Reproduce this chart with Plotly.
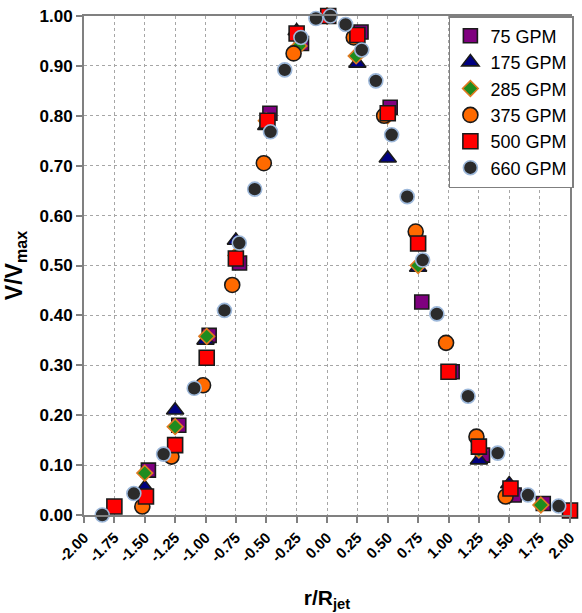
import plotly.graph_objects as go

# Normalised jet velocity profiles, r/R_jet vs V/V_max, per flow rate
x75 = [-1.47, -1.22, -0.97, -0.72, -0.47, -0.21, 0.01, 0.28, 0.52, 0.78, 1.03, 1.28, 1.54, 1.78]
y75 = [0.090, 0.180, 0.360, 0.505, 0.805, 0.945, 1.000, 0.968, 0.817, 0.427, 0.287, 0.120, 0.040, 0.023]

x175 = [-1.50, -1.25, -1.00, -0.75, -0.50, -0.25, 0.00, 0.25, 0.50, 0.75, 1.25, 1.50]
y175 = [0.055, 0.210, 0.350, 0.550, 0.780, 0.970, 1.000, 0.905, 0.715, 0.496, 0.110, 0.062]

x285 = [-1.50, -1.25, -0.99, -0.75, -0.50, -0.23, 0.00, 0.24, 0.50, 0.75, 1.25, 1.50, 1.76]
y285 = [0.084, 0.177, 0.358, 0.520, 0.790, 0.940, 1.000, 0.920, 0.800, 0.500, 0.130, 0.045, 0.020]

x375 = [-1.52, -1.28, -1.02, -0.78, -0.52, -0.275, 0.00, 0.22, 0.47, 0.73, 0.98, 1.23, 1.47]
y375 = [0.017, 0.117, 0.260, 0.461, 0.705, 0.925, 1.000, 0.957, 0.800, 0.568, 0.345, 0.157, 0.037]

x500 = [-1.75, -1.49, -1.25, -0.99, -0.75, -0.49, -0.25, 0.01, 0.25, 0.50, 0.75, 1.00, 1.25, 1.51, 2.00]
y500 = [0.017, 0.037, 0.140, 0.315, 0.514, 0.790, 0.965, 1.000, 0.962, 0.805, 0.544, 0.287, 0.137, 0.053, 0.009]

x660 = [-1.85, -1.59, -1.345, -1.093, -0.844, -0.722, -0.595, -0.465, -0.348, -0.215, -0.091,
        0.028, 0.153, 0.286, 0.402, 0.532, 0.660, 0.787, 0.904, 1.161, 1.405, 1.654, 1.907]
y660 = [0.000, 0.043, 0.122, 0.254, 0.410, 0.545, 0.653, 0.768, 0.892, 0.957, 0.995,
        1.000, 0.983, 0.932, 0.870, 0.762, 0.638, 0.511, 0.403, 0.238, 0.124, 0.040, 0.018]

series = [
    ("75 GPM", x75, y75, "square", "#7F007F", "#1a1a1a", 14),
    ("175 GPM", x175, y175, "triangle-up", "#000080", "#1a1a1a", 15),
    ("285 GPM", x285, y285, "diamond", "#1E8C1E", "#E07A20", 12),
    ("375 GPM", x375, y375, "circle", "#FF6A00", "#1a1a1a", 15),
    ("500 GPM", x500, y500, "square", "#FF0000", "#1a1a1a", 15),
    ("660 GPM", x660, y660, "circle", "#2B2B2B", "#9DB8DA", 14),
]

FONT = "Liberation Sans Narrow, Arial Narrow, Liberation Sans, Arial, sans-serif"

fig = go.Figure()
for name, xs, ys, sym, fill, edge, size in series:
    fig.add_trace(go.Scatter(
        x=xs, y=ys, mode="markers", name=name, cliponaxis=False,
        marker=dict(symbol=sym, size=size, color=fill,
                    line=dict(color=edge, width=1.6)),
    ))

xticks = [-2 + 0.25 * i for i in range(17)]
yticks = [0.1 * i for i in range(11)]

fig.update_layout(
    width=582, height=613,
    margin=dict(l=84, r=5, t=16, b=98),
    paper_bgcolor="white", plot_bgcolor="white",
    font=dict(family=FONT, color="black"),
    showlegend=True,
    legend=dict(
        x=1.008, y=1.0, xanchor="right", yanchor="top",
        bgcolor="white", bordercolor="#7F7F7F", borderwidth=1.5,
        font=dict(size=18, family=FONT), tracegroupgap=0,
        itemwidth=30,
    ),
)

fig.update_xaxes(
    range=[-2, 2], tickvals=xticks,
    ticktext=[f"{v:.2f}" for v in xticks],
    tickangle=-45, tickfont=dict(size=15, family=FONT, weight="bold"),
    showgrid=True, gridcolor="#A6A6A6", gridwidth=1, griddash="dot",
    showline=True, linecolor="#808080", linewidth=2, mirror=True,
    ticks="outside", ticklen=6, tickcolor="#808080", tickwidth=1.5,
    zeroline=False,
    title=dict(text="<b>r/R<sub>jet</sub></b>", font=dict(size=21, family="Liberation Sans, Arial"),
               standoff=26),
)
fig.update_yaxes(
    range=[0, 1], tickvals=yticks,
    ticktext=[f"{v:.2f}" for v in yticks],
    tickfont=dict(size=17, family=FONT, weight="bold"),
    showgrid=True, gridcolor="#A6A6A6", gridwidth=1, griddash="dot",
    showline=True, linecolor="#808080", linewidth=2, mirror=True,
    ticks="outside", ticklen=6, tickcolor="#808080", tickwidth=1.5,
    zeroline=False,
    title=dict(text="<b>V/V<sub>max</sub></b>", font=dict(size=23, family="Liberation Sans, Arial"),
               standoff=10),
)

fig.write_html("out.html")
